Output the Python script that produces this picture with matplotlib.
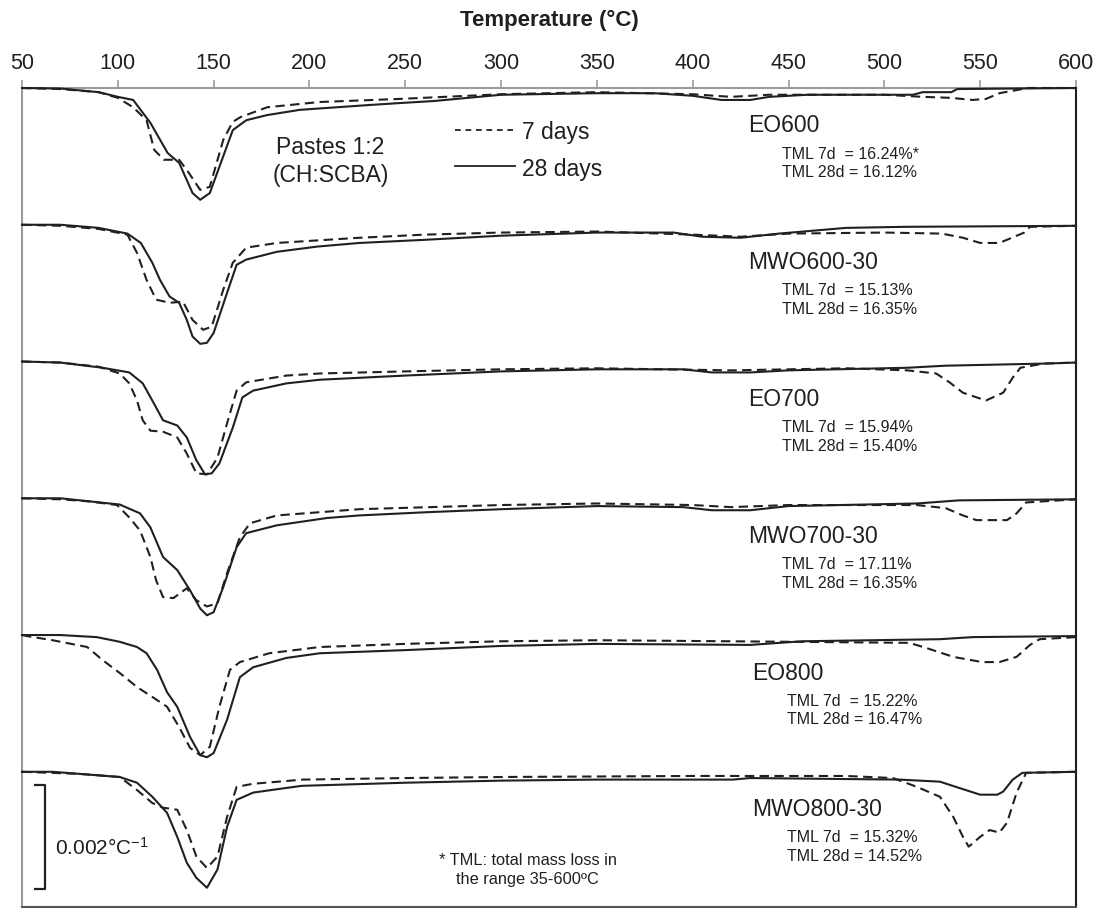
import matplotlib
matplotlib.use("Agg")
import matplotlib.pyplot as plt

plt.rcParams["font.family"] = ["Liberation Sans", "DejaVu Sans"]
plt.rcParams["mathtext.default"] = "regular"

INK = "#231f20"
GREY = "#9b9b9b"

samples = ["EO600", "MWO600-30", "EO700", "MWO700-30", "EO800", "MWO800-30"]
tml_7d = ["16.24%*", "15.13%", "15.94%", "17.11%", "15.22%", "15.32%"]
tml_28d = ["16.12%", "16.35%", "15.40%", "16.35%", "16.47%", "14.52%"]

# DTG curves, temperature in °C and dm/dT in 1e-3 °C^-1 (7 and 28 days of curing)
eo600_t7 = [50, 70, 90, 100, 108, 115, 119, 124, 132, 137, 143, 148, 155, 160, 164, 178, 205, 247,
            300, 350, 400, 420, 440, 500, 520, 535, 546, 553, 560, 569, 575, 600]
eo600_d7 = [0, -0.02, -0.08, -0.19, -0.37, -0.62, -1.19, -1.38, -1.38, -1.63, -1.96, -1.90, -1.00,
            -0.65, -0.56, -0.37, -0.27, -0.21, -0.12, -0.08, -0.12, -0.17, -0.13, -0.13, -0.17,
            -0.19, -0.23, -0.21, -0.10, -0.04, 0, 0]
eo600_t28 = [50, 70, 90, 100, 108, 117, 126, 132, 139, 143, 148, 160, 167, 178, 195, 230, 247, 265,
             300, 350, 380, 400, 415, 430, 440, 460, 515, 520, 535, 538, 600]
eo600_d28 = [0, -0.01, -0.08, -0.17, -0.23, -0.67, -1.25, -1.44, -2.02, -2.15, -2.02, -0.81, -0.62,
             -0.52, -0.42, -0.33, -0.29, -0.25, -0.13, -0.10, -0.10, -0.15, -0.23, -0.23, -0.17,
             -0.13, -0.13, -0.08, -0.08, -0.02, 0]

mwo600_t7 = [50, 70, 90, 105, 110, 115, 120, 127, 134, 139, 144.5, 149, 155, 160, 167, 183, 226, 260,
             300, 350, 400, 425, 450, 500, 530, 541, 550, 560, 573, 576, 600]
mwo600_d7 = [0, -0.02, -0.08, -0.19, -0.54, -1.06, -1.44, -1.50, -1.48, -1.83, -2.02, -1.96, -1.25,
             -0.73, -0.44, -0.35, -0.25, -0.19, -0.15, -0.13, -0.19, -0.23, -0.17, -0.15, -0.17,
             -0.25, -0.35, -0.35, -0.15, -0.04, -0.02]
mwo600_t28 = [50, 70, 90, 105, 112, 118, 122, 127, 132, 136, 139, 143, 146.5, 150, 157, 162, 167, 183,
              204, 226, 260, 300, 350, 390, 405, 425, 445, 480, 510, 600]
mwo600_d28 = [0, 0, -0.06, -0.17, -0.35, -0.73, -1.06, -1.38, -1.50, -1.83, -2.15, -2.29, -2.27,
              -2.08, -1.31, -0.77, -0.67, -0.52, -0.42, -0.35, -0.29, -0.21, -0.15, -0.15, -0.23,
              -0.25, -0.17, -0.06, -0.04, -0.02]

eo700_t7 = [50, 70, 90, 101, 106, 110, 113, 117, 123.6, 131, 136, 141, 146.5, 152, 157, 162, 167, 188,
            205.5, 250, 300, 350, 420, 480, 512, 527, 534, 541, 553, 562, 567, 571, 583, 600]
eo700_d7 = [0, -0.02, -0.10, -0.23, -0.42, -0.75, -1.13, -1.33, -1.35, -1.46, -1.77, -2.15, -2.17,
            -1.85, -1.19, -0.56, -0.40, -0.27, -0.23, -0.19, -0.15, -0.13, -0.17, -0.13, -0.17,
            -0.23, -0.40, -0.60, -0.75, -0.60, -0.31, -0.12, -0.04, -0.02]
eo700_t28 = [50, 70, 92, 106, 113, 118, 123.6, 131, 136, 141, 145.5, 149, 153, 160, 165, 170.6, 188,
             205.5, 250, 300, 350, 395, 410, 430, 450, 512, 532, 583, 600]
eo700_d28 = [0, -0.02, -0.12, -0.21, -0.42, -0.75, -1.13, -1.23, -1.46, -1.90, -2.17, -2.15, -1.96,
             -1.27, -0.69, -0.56, -0.42, -0.35, -0.27, -0.19, -0.15, -0.15, -0.21, -0.21, -0.17,
             -0.12, -0.08, -0.04, -0.02]

mwo700_t7 = [50, 70, 85, 99.6, 106, 111.6, 117, 120, 123.6, 129, 136, 141, 146.5, 152, 157, 163.7, 169,
             183, 226, 300, 350, 400, 420, 450, 517, 532, 541, 548, 564, 569, 574, 600]
mwo700_d7 = [0, -0.02, -0.06, -0.13, -0.37, -0.62, -1.13, -1.58, -1.90, -1.92, -1.73, -1.96, -2.08,
             -2.02, -1.44, -0.75, -0.48, -0.33, -0.21, -0.13, -0.10, -0.13, -0.17, -0.13, -0.13,
             -0.19, -0.33, -0.42, -0.42, -0.29, -0.08, -0.02]
mwo700_t28 = [50, 70, 101, 111.6, 117, 123.6, 131, 137.7, 143, 146.5, 150, 155, 162, 167, 183, 209, 226,
              260, 300, 350, 395, 410, 430, 450, 517, 539, 600]
mwo700_d28 = [0, 0, -0.12, -0.29, -0.56, -1.13, -1.38, -1.77, -2.12, -2.25, -2.19, -1.71, -0.94,
              -0.67, -0.52, -0.38, -0.33, -0.27, -0.21, -0.15, -0.17, -0.23, -0.23, -0.15, -0.10,
              -0.04, -0.02]

eo800_t7 = [50, 52.6, 66, 84, 92, 101, 110, 118, 125.7, 132, 137.7, 143, 148, 153, 158.5, 163.7, 179,
            205.5, 250, 300, 350, 420, 513, 522, 536, 551, 560, 569, 576, 581, 600]
eo800_d7 = [0, -0.02, -0.10, -0.23, -0.48, -0.73, -1.00, -1.19, -1.38, -1.77, -2.17, -2.31, -2.15,
            -1.38, -0.67, -0.52, -0.35, -0.23, -0.17, -0.12, -0.10, -0.12, -0.15, -0.25, -0.42,
            -0.52, -0.52, -0.42, -0.19, -0.08, -0.04]
eo800_t28 = [50, 70, 89, 101, 110, 115, 120.5, 125.7, 131, 137.7, 143, 146.5, 150, 157, 163.7, 170.6,
             188, 205.5, 250, 300, 350, 430, 457, 529, 546, 600]
eo800_d28 = [0, 0, -0.04, -0.13, -0.23, -0.35, -0.67, -1.10, -1.38, -1.96, -2.31, -2.35, -2.27, -1.63,
             -0.81, -0.62, -0.44, -0.35, -0.29, -0.21, -0.17, -0.19, -0.12, -0.08, -0.04, -0.02]

mwo800_t7 = [50, 80, 101, 110, 118, 123.6, 131, 136, 141, 146.5, 152, 157, 162, 170.6, 196.6, 250, 300,
             400, 480, 504.5, 517, 529, 536, 541, 544, 550, 555, 560, 564, 569, 574, 600]
mwo800_d7 = [0, -0.04, -0.10, -0.35, -0.60, -0.69, -0.73, -1.12, -1.63, -1.85, -1.63, -0.87, -0.29,
             -0.23, -0.15, -0.12, -0.10, -0.08, -0.08, -0.12, -0.29, -0.48, -0.87, -1.25, -1.44,
             -1.25, -1.12, -1.17, -0.98, -0.40, -0.02, 0]
mwo800_t28 = [50, 66, 101, 110, 118, 125.7, 131, 136, 141, 146.5, 152, 157, 162, 170.6, 188, 196, 250,
              300, 350, 421, 430, 508, 529, 539, 550, 559, 562, 567, 572, 600]
mwo800_d28 = [0, 0, -0.10, -0.21, -0.48, -0.79, -1.25, -1.75, -2.04, -2.23, -1.88, -1.06, -0.54,
              -0.40, -0.31, -0.27, -0.21, -0.17, -0.15, -0.15, -0.12, -0.15, -0.19, -0.31, -0.44,
              -0.44, -0.38, -0.15, -0.02, 0]

curves = [
    (eo600_t7, eo600_d7, eo600_t28, eo600_d28),
    (mwo600_t7, mwo600_d7, mwo600_t28, mwo600_d28),
    (eo700_t7, eo700_d7, eo700_t28, eo700_d28),
    (mwo700_t7, mwo700_d7, mwo700_t28, mwo700_d28),
    (eo800_t7, eo800_d7, eo800_t28, eo800_d28),
    (mwo800_t7, mwo800_d7, mwo800_t28, mwo800_d28),
]

SHIFT = 2.63          # vertical spacing between stacked curves (1e-3 °C^-1)
DASH = (4.5, 2.6)

fig = plt.figure(figsize=(11.03, 9.08), dpi=100)
ax = fig.add_axes([22 / 1103, 1 / 908, 1054 / 1103, 819 / 908])

for i, (t7, d7, t28, d28) in enumerate(curves):
    off = -i * SHIFT
    ax.plot(t7, [v + off for v in d7], color=INK, lw=1.5, dashes=DASH, zorder=3, clip_on=False)
    ax.plot(t28, [v + off for v in d28], color=INK, lw=1.5, zorder=3, clip_on=False)

    tx = 428.8 if i < 4 else 431
    ax.text(tx, off - 0.73, samples[i], fontsize=16.5, color=INK, ha="left", va="center")
    mx = 446.6 if i < 4 else 449
    ax.text(mx, off - 1.27, f"TML 7d  = {tml_7d[i]}", fontsize=11.5, color=INK, ha="left", va="center")
    ax.text(mx, off - 1.63, f"TML 28d = {tml_28d[i]}", fontsize=11.5, color=INK, ha="left", va="center")

# legend and sample description
ax.plot([276, 306], [-0.81, -0.81], color=INK, lw=1.3, dashes=(3.2, 2.6))
ax.plot([276, 307], [-1.50, -1.50], color=INK, lw=1.3)
ax.text(311, -0.86, "7 days", fontsize=16.5, color=INK, ha="left", va="center")
ax.text(311, -1.57, "28 days", fontsize=16.5, color=INK, ha="left", va="center")
ax.text(211, -1.15, "Pastes 1:2", fontsize=16.5, color=INK, ha="center", va="center")
ax.text(211, -1.68, "(CH:SCBA)", fontsize=16.5, color=INK, ha="center", va="center")

# scale bar for the DTG axis
ax.plot([56.8, 62, 62, 56.8], [-13.40, -13.40, -15.40, -15.40], color=INK, lw=1.6)
ax.text(67.2, -14.62, r"0.002°C$^{-1}$", fontsize=15, color=INK, ha="left", va="center")
ax.text(314, -14.85, "* TML: total mass loss in", fontsize=11.8, color=INK, ha="center", va="center")
ax.text(314, -15.23, "the range 35-600ºC", fontsize=11.8, color=INK, ha="center", va="center")

ax.set_xlim(50, 600)
ax.set_ylim(-15.75, 0)
ax.set_xticks(range(50, 601, 50))
ax.xaxis.tick_top()
ax.tick_params(axis="x", direction="out", length=6, width=1.2, color=GREY,
               labelsize=15.5, labelcolor=INK, pad=4)
ax.set_yticks([])
for side, col in [("top", GREY), ("left", GREY), ("right", INK), ("bottom", "#555555")]:
    ax.spines[side].set_color(col)
    ax.spines[side].set_linewidth(1.5)

fig.text(549 / 1103, 1 - 20 / 908, "Temperature (°C)", fontsize=16, fontweight="bold",
         color=INK, ha="center", va="center")

fig.savefig("out.png", dpi=100, facecolor="white")
